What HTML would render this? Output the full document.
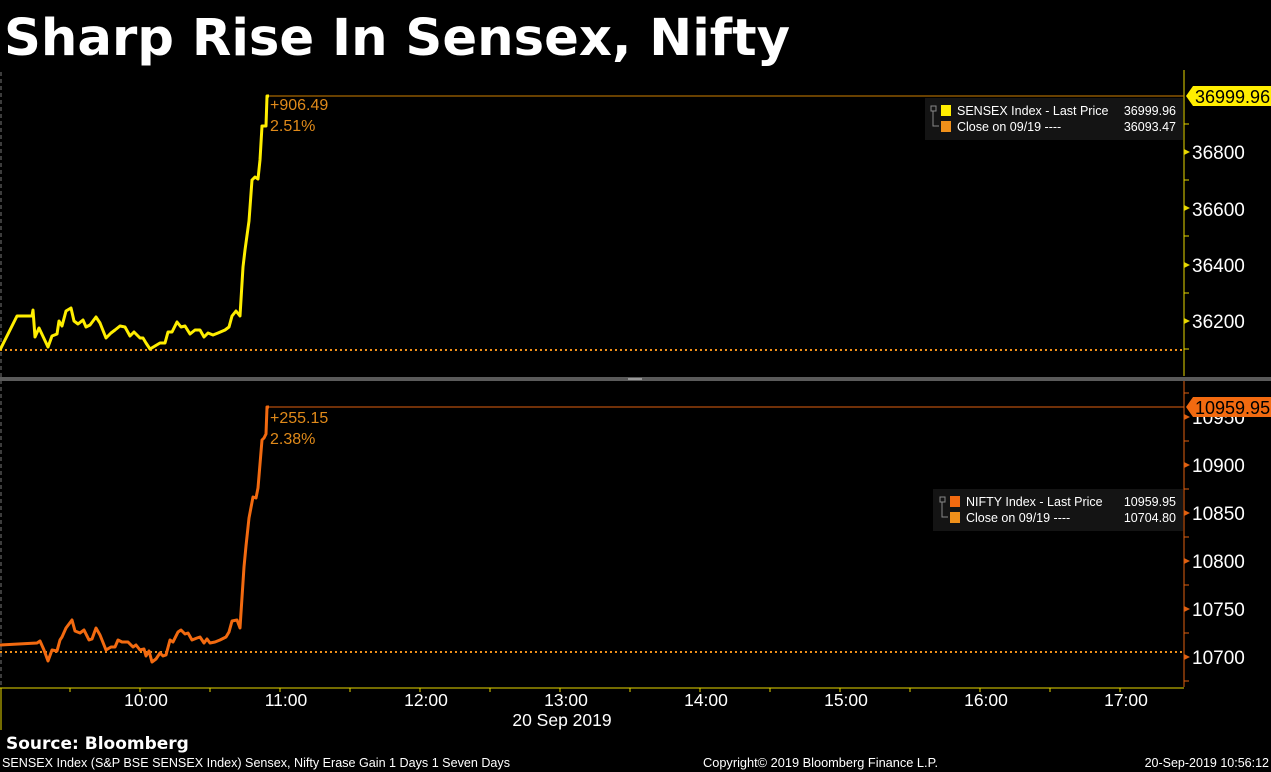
<!DOCTYPE html>
<html><head><style>
body{margin:0;background:#000;width:1271px;height:772px;overflow:hidden;font-family:"Liberation Sans",sans-serif;}
</style></head><body>
<svg width="1271" height="772" xmlns="http://www.w3.org/2000/svg" style="position:absolute;left:0;top:0">
<rect width="1271" height="772" fill="#000"/>
<text x="4" y="55" fill="#fff" font-size="51" font-weight="bold" font-family="DejaVu Sans, Liberation Sans, sans-serif" textLength="786" lengthAdjust="spacingAndGlyphs">Sharp Rise In Sensex, Nifty</text>
<line x1="1" y1="72" x2="1" y2="686" stroke="#777" stroke-dasharray="4,3"/>
<rect x="0" y="377" width="1271" height="4" fill="#5a5a5a"/>
<rect x="628" y="378" width="14" height="2" fill="#999"/>
<line x1="1184" y1="70" x2="1184" y2="376" stroke="#e8d800"/>
<g stroke="#e8d800">
<line x1="1184" y1="124" x2="1189" y2="124"/><line x1="1184" y1="180" x2="1189" y2="180"/><line x1="1184" y1="236" x2="1189" y2="236"/><line x1="1184" y1="293" x2="1189" y2="293"/><line x1="1184" y1="349" x2="1189" y2="349"/>
</g>
<g fill="#e8d800"><polygon points="1184,149 1190,152 1184,155"/><polygon points="1184,205 1190,208 1184,211"/><polygon points="1184,262 1190,265 1184,268"/><polygon points="1184,318 1190,321 1184,324"/></g>
<g fill="#fff" font-size="19"><text x="1192" y="159">36800</text><text x="1192" y="216">36600</text><text x="1192" y="272">36400</text><text x="1192" y="328">36200</text></g>
<line x1="0" y1="350" x2="1184" y2="350" stroke="#f0901a" stroke-width="2" stroke-dasharray="2,3"/>
<line x1="268" y1="96" x2="1184" y2="96" stroke="#d08000" stroke-width="1"/>
<polygon points="1186,96 1193,86 1271,86 1271,106 1193,106" fill="#ffee00"/>
<text x="1195" y="103" font-size="18" fill="#000">36999.96</text>
<polyline fill="none" stroke="#ffee00" stroke-width="3" stroke-linejoin="round" points="0,350 17,316 32,316 33,310 35,337 39,328 48,347 52,336 57,334 59,321 62,326 66,311 71,308 74,321 78,324 83,320 86,327 90,325 96,317 100,323 106,338 111,333 115,330 120,326 125,327 130,336 134,332 140,338 143,338 146,343 150,349 155,346 160,343 165,343 168,332 172,332 177,322 181,327 185,326 190,334 195,330 200,330 204,337 208,333 213,335 218,333 225,330 229,327 232,316 236,311 240,316 243,267 245,250 249,221 252,180 255,177 258,179 260,160 262,126 266,126 267,96 269,96"/>
<text x="270" y="110" font-size="16" fill="#e08a1a">+906.49</text>
<text x="270" y="131" font-size="16" fill="#e08a1a">2.51%</text>
<rect x="925" y="98" width="258" height="42" fill="#141414"/>
<rect x="941" y="105" width="10" height="11" fill="#ffee00"/><rect x="941" y="121" width="10" height="11" fill="#f0901a"/>
<rect x="931" y="106" width="5" height="5" fill="none" stroke="#888" stroke-width="1"/>
<polyline points="933,111 933,126 939,126" fill="none" stroke="#888"/>
<g fill="#fff" font-size="12.5"><text x="957" y="115">SENSEX Index - Last Price</text><text x="1176" y="115" text-anchor="end">36999.96</text>
<text x="957" y="131">Close on 09/19 ----</text><text x="1176" y="131" text-anchor="end">36093.47</text></g>
<line x1="1184" y1="381" x2="1184" y2="687" stroke="#e06010"/>
<g stroke="#e06010">
<line x1="1184" y1="393" x2="1189" y2="393"/><line x1="1184" y1="441" x2="1189" y2="441"/><line x1="1184" y1="489" x2="1189" y2="489"/><line x1="1184" y1="537" x2="1189" y2="537"/><line x1="1184" y1="585" x2="1189" y2="585"/><line x1="1184" y1="633" x2="1189" y2="633"/><line x1="1184" y1="681" x2="1189" y2="681"/>
</g>
<g fill="#e06010"><polygon points="1184,414 1190,417 1184,420"/><polygon points="1184,462 1190,465 1184,468"/><polygon points="1184,510 1190,513 1184,516"/><polygon points="1184,558 1190,561 1184,564"/><polygon points="1184,606 1190,609 1184,612"/><polygon points="1184,654 1190,657 1184,660"/></g>
<g fill="#fff" font-size="19"><text x="1192" y="424">10950</text><text x="1192" y="472">10900</text><text x="1192" y="520">10850</text><text x="1192" y="568">10800</text><text x="1192" y="616">10750</text><text x="1192" y="664">10700</text></g>
<line x1="0" y1="652" x2="1184" y2="652" stroke="#f0901a" stroke-width="2" stroke-dasharray="2,3"/>
<line x1="268" y1="407" x2="1184" y2="407" stroke="#e06010" stroke-width="1"/>
<polygon points="1186,407 1193,397 1271,397 1271,417 1193,417" fill="#f26a10"/>
<text x="1195" y="414" font-size="18" fill="#000">10959.95</text>
<polyline fill="none" stroke="#f26a10" stroke-width="3" stroke-linejoin="round" points="0,645 37,643 40,641 44,650 48,661 52,650 57,651 60,640 62,637 66,628 72,620 75,631 80,633 84,630 89,640 92,639 96,628 100,635 106,650 111,647 115,647 118,640 122,642 128,642 133,647 136,645 140,650 144,649 146,656 149,651 152,662 156,659 160,653 163,656 166,655 170,640 173,642 178,632 181,630 185,634 188,633 192,640 197,638 200,637 204,643 207,639 210,643 215,642 220,640 226,637 229,632 232,621 237,620 240,628 244,567 246,546 249,518 253,497 256,498 258,488 262,440 264,438 266,434 267,407 269,407"/>
<text x="270" y="423" font-size="16" fill="#e08a1a">+255.15</text>
<text x="270" y="444" font-size="16" fill="#e08a1a">2.38%</text>
<rect x="933" y="489" width="250" height="42" fill="#141414"/>
<rect x="950" y="496" width="10" height="11" fill="#f26a10"/><rect x="950" y="512" width="10" height="11" fill="#f0901a"/>
<rect x="940" y="497" width="5" height="5" fill="none" stroke="#888" stroke-width="1"/>
<polyline points="942,502 942,517 948,517" fill="none" stroke="#888"/>
<g fill="#fff" font-size="12.5"><text x="966" y="506">NIFTY Index - Last Price</text><text x="1176" y="506" text-anchor="end">10959.95</text>
<text x="966" y="522">Close on 09/19 ----</text><text x="1176" y="522" text-anchor="end">10704.80</text></g>
<line x1="0" y1="688" x2="1184" y2="688" stroke="#e8d800"/>
<line x1="1" y1="688" x2="1" y2="730" stroke="#e8d800"/>
<g stroke="#e8d800">
<line x1="70" y1="688" x2="70" y2="692"/><line x1="140" y1="688" x2="140" y2="692"/><line x1="210" y1="688" x2="210" y2="692"/><line x1="280" y1="688" x2="280" y2="692"/><line x1="350" y1="688" x2="350" y2="692"/><line x1="420" y1="688" x2="420" y2="692"/><line x1="490" y1="688" x2="490" y2="692"/><line x1="560" y1="688" x2="560" y2="692"/><line x1="630" y1="688" x2="630" y2="692"/><line x1="700" y1="688" x2="700" y2="692"/><line x1="770" y1="688" x2="770" y2="692"/><line x1="840" y1="688" x2="840" y2="692"/><line x1="910" y1="688" x2="910" y2="692"/><line x1="980" y1="688" x2="980" y2="692"/><line x1="1050" y1="688" x2="1050" y2="692"/><line x1="1120" y1="688" x2="1120" y2="692"/>
</g>
<g fill="#fff" font-size="17.5" text-anchor="middle"><text x="146" y="706">10:00</text><text x="286" y="706">11:00</text><text x="426" y="706">12:00</text><text x="566" y="706">13:00</text><text x="706" y="706">14:00</text><text x="846" y="706">15:00</text><text x="986" y="706">16:00</text><text x="1126" y="706">17:00</text><text x="562" y="726">20 Sep 2019</text></g>
<text x="6" y="749" fill="#fff" font-size="17" font-weight="bold" font-family="DejaVu Sans, Liberation Sans, sans-serif">Source: Bloomberg</text>
<g fill="#fff" font-size="12.5"><text x="2" y="767" textLength="508" lengthAdjust="spacingAndGlyphs">SENSEX Index (S&amp;P BSE SENSEX Index) Sensex, Nifty Erase Gain 1 Days 1 Seven Days</text><text x="703" y="767" textLength="235" lengthAdjust="spacingAndGlyphs">Copyright© 2019 Bloomberg Finance L.P.</text><text x="1269" y="767" text-anchor="end">20-Sep-2019 10:56:12</text></g>
</svg>
</body></html>
